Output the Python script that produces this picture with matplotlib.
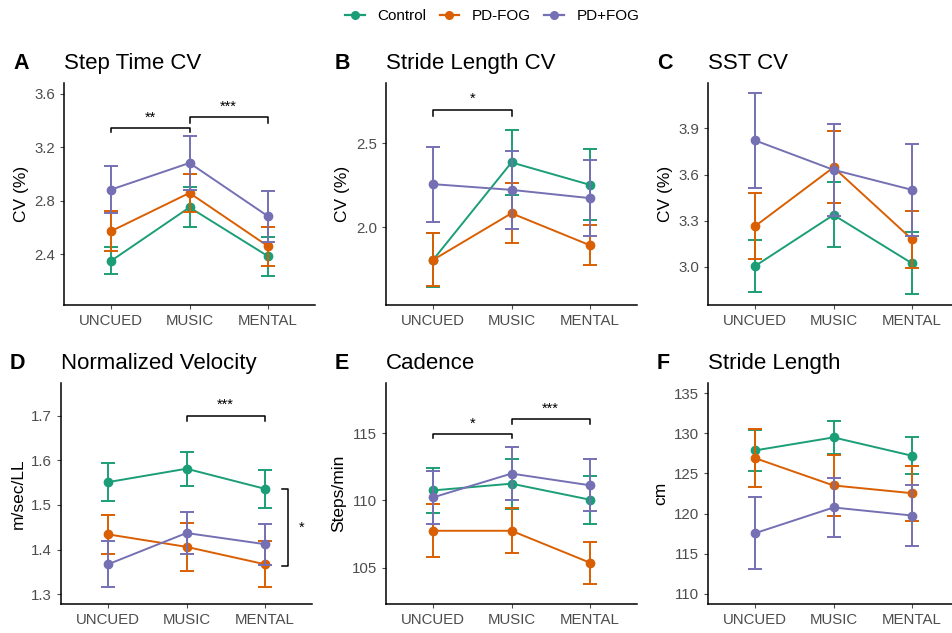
import numpy as np
import matplotlib
matplotlib.use("Agg")
import matplotlib.pyplot as plt
from matplotlib.lines import Line2D

plt.rcParams['font.family'] = ['Liberation Sans', 'DejaVu Sans']

###########
## DATA  ##
###########
conditions = ['UNCUED', 'MUSIC', 'MENTAL']
groups = ['Control', 'PD-FOG', 'PD+FOG']
colors = ['#1B9E77', '#D95F02', '#7570B3']

letters = ['A', 'B', 'C', 'D', 'E', 'F']
titles = ['Step Time CV', 'Stride Length CV', 'SST CV',
          'Normalized Velocity', 'Cadence', 'Stride Length']
ylabels = ['CV (%)', 'CV (%)', 'CV (%)', 'm/sec/LL', 'Steps/min', 'cm']

# means per group (Control, PD-FOG, PD+FOG) x condition
step_time_cv = [[2.35, 2.75, 2.385], [2.572, 2.858, 2.46], [2.883, 3.082, 2.684]]
step_time_cv_err = [[0.10, 0.15, 0.145], [0.15, 0.142, 0.145], [0.175, 0.20, 0.19]]

stride_len_cv = [[1.806, 2.385, 2.252], [1.806, 2.083, 1.893], [2.256, 2.222, 2.173]]
stride_len_cv_err = [[0.16, 0.195, 0.21], [0.158, 0.178, 0.119], [0.223, 0.23, 0.226]]

sst_cv = [[3.006, 3.338, 3.024], [3.265, 3.647, 3.18], [3.822, 3.631, 3.501]]
sst_cv_err = [[0.167, 0.211, 0.2], [0.214, 0.233, 0.186], [0.31, 0.297, 0.30]]

velocity = [[1.551, 1.581, 1.536], [1.434, 1.406, 1.367], [1.367, 1.437, 1.412]]
velocity_err = [[0.043, 0.038, 0.042], [0.043, 0.054, 0.051], [0.052, 0.047, 0.046]]

cadence = [[110.74, 111.24, 110.05], [107.74, 107.74, 105.37], [110.22, 111.99, 111.12]]
cadence_err = [[1.7, 1.85, 1.77], [1.98, 1.66, 1.57], [1.95, 1.95, 1.93]]

stride_len = [[127.86, 129.48, 127.2], [126.9, 123.5, 122.54], [117.56, 120.76, 119.76]]
stride_len_err = [[2.6, 2.08, 2.27], [3.63, 3.84, 3.42], [4.49, 3.63, 3.81]]

means = [step_time_cv, stride_len_cv, sst_cv, velocity, cadence, stride_len]
errs = [step_time_cv_err, stride_len_cv_err, sst_cv_err, velocity_err, cadence_err, stride_len_err]

yticks = [[2.4, 2.8, 3.2, 3.6], [2.0, 2.5], [3.0, 3.3, 3.6, 3.9],
          [1.3, 1.4, 1.5, 1.6, 1.7], [105, 110, 115], [110, 115, 120, 125, 130, 135]]
ylims = [(2.02, 3.68), (1.538, 2.857), (2.753, 4.195),
         (1.278, 1.773), (102.3, 118.72), (108.75, 136.25)]
yfmt = ['%.1f', '%.1f', '%.1f', '%.1f', '%d', '%d']

# significance brackets: (panel, cond_from, cond_to, y, tick drop, label)
brackets = [
    (0, 0, 1, 3.346, 0.032, '**'),
    (0, 1, 2, 3.426, 0.045, '***'),
    (1, 0, 1, 2.698, 0.035, '*'),
    (3, 1, 2, 1.700, 0.013, '***'),
    (4, 0, 1, 114.95, 0.32, '*'),
    (4, 1, 2, 116.04, 0.37, '***'),
]
# vertical group bracket in panel D: (panel, x, y_low, y_high, label)
vbrackets = [(3, 3.295, 1.363, 1.535, '*')]

############
## LAYOUT ##
############
W, H = 952, 633
lefts = [64, 386, 708, 61, 386, 708]
tops = [83, 83, 83, 383, 383, 383]
bottoms = [305, 305, 305, 604, 604, 604]
axw = 251

fig = plt.figure(figsize=(9.52, 6.33), dpi=100)
xs = np.arange(1, 4)
axes = []
for k in range(6):
    rect = [lefts[k] / W, 1 - bottoms[k] / H, axw / W, (bottoms[k] - tops[k]) / H]
    ax = fig.add_axes(rect)
    axes.append(ax)
    for g in range(3):
        ax.errorbar(xs, means[k][g], yerr=errs[k][g], color=colors[g],
                    lw=1.4, capsize=5, capthick=1.4, marker='o', ms=6,
                    zorder=2 + g)
    ax.set_xlim(0.4, 3.6)
    ax.set_ylim(*ylims[k])
    ax.set_xticks(xs)
    ax.set_xticklabels(conditions)
    ax.set_yticks(yticks[k])
    ax.set_yticklabels([yfmt[k] % v for v in yticks[k]])
    ax.tick_params(labelsize=10.8, colors='#4D4D4D', length=3, width=0.8)
    for s in ['top', 'right']:
        ax.spines[s].set_visible(False)
    for s in ['left', 'bottom']:
        ax.spines[s].set_linewidth(1.1)
    ax.set_ylabel(ylabels[k], fontsize=12.5, labelpad=4)
    ax.text(0.0, 1.09, titles[k], transform=ax.transAxes, fontsize=16,
            ha='left', va='center')
    ax.text(-51 / axw, 1.09, letters[k], transform=ax.transAxes, fontsize=15.5,
            fontweight='bold', ha='left', va='center')

for (p, a, b, y, d, lab) in brackets:
    ax = axes[p]
    ax.plot([xs[a], xs[a], xs[b], xs[b]], [y - d, y, y, y - d], color='black',
            lw=1.1, clip_on=False)
    ax.text((xs[a] + xs[b]) / 2, y + d * 0.6, lab, ha='center', va='bottom',
            fontsize=10.5)

for (p, x, y0, y1, lab) in vbrackets:
    ax = axes[p]
    ax.plot([x - 0.08, x, x, x - 0.08], [y0, y0, y1, y1], color='black',
            lw=1.1, clip_on=False)
    ax.text(x + 0.17, (y0 + y1) / 2, lab, ha='center', va='center', fontsize=10.5)

handles = [Line2D([0], [0], color=c, marker='o', lw=1.6, ms=5.5) for c in colors]
fig.legend(handles, groups, loc='center', bbox_to_anchor=(492 / W, 1 - 16 / H),
           ncol=3, frameon=False, fontsize=11, handlelength=1.3,
           columnspacing=0.9, handletextpad=0.8)

fig.savefig('out.png', dpi=100)
